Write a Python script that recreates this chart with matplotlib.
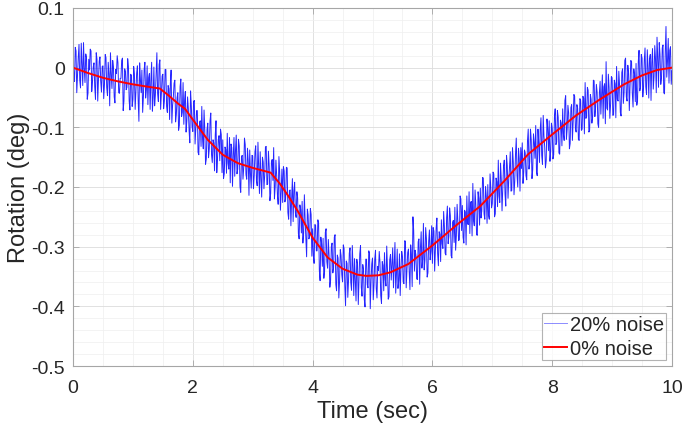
import numpy as np
import matplotlib
matplotlib.use("Agg")
import matplotlib.pyplot as plt
from matplotlib.ticker import MultipleLocator

# noise-free response (0% noise)
clean_t = [0, 0.25, 0.5, 0.75, 1.0, 1.25, 1.45, 1.6, 1.75, 1.87, 2.0, 2.25, 2.5,
           2.75, 3.0, 3.15, 3.3, 3.45, 3.6, 3.75, 4.0, 4.25, 4.5, 4.75, 4.9, 5.1,
           5.3, 5.6, 6.0, 6.4, 6.8, 7.2, 7.6, 8.0, 8.4, 8.8, 9.2, 9.5, 9.75, 10.0]
clean_y = [0, -0.009, -0.017, -0.023, -0.028, -0.032, -0.035, -0.047, -0.060,
           -0.069, -0.087, -0.121, -0.146, -0.160, -0.168, -0.172, -0.176, -0.194,
           -0.216, -0.240, -0.285, -0.318, -0.337, -0.347, -0.349, -0.348, -0.343,
           -0.329, -0.298, -0.264, -0.232, -0.190, -0.145, -0.112, -0.080, -0.053,
           -0.028, -0.013, -0.004, 0.0]

# 20% noise response in millidegrees, samples at t = 0, 0.025, ..., 10
noisy_mdeg = [
    15, -23, 28, -11, 39, -34, 5, 42, -25, 17, -43, -4, 28, -23, 8, -53, 14, -19, 18, -41,
    3, -28, 17, -47, -11, 25, -35, 1, -59, -10, 8, -43, -18, 16, -56, -7, -33, 2, -71, -13,
    -53, -10, -39, 3, -90, -20, -4, -49, 9, -37, -62, -10, -21, -73, 1, -46, 25, -57, 13, -44,
    -11, -56, -3, -75, -35, -27, -93, -49, -21, -78, -42, -97, -19, -75, -95, -40, -89, -69, -126, -64,
    -107, -55, -102, -72, -146, -89, -65, -136, -104, -153, -93, -136, -76, -159, -126, -112, -176, -121, -156, -112,
    -121, -178, -137, -110, -170, -193, -134, -147, -182, -113, -170, -131, -209, -147, -168, -129, -187, -156, -138, -202,
    -148, -181, -131, -198, -166, -141, -217, -158, -181, -132, -195, -165, -211, -154, -134, -200, -180, -229, -174, -208,
    -226, -173, -219, -168, -254, -205, -219, -258, -192, -251, -218, -287, -237, -224, -278, -255, -317, -247, -284, -246,
    -270, -328, -264, -307, -260, -357, -295, -286, -341, -270, -336, -315, -357, -294, -336, -280, -374, -319, -358, -315,
    -359, -303, -399, -328, -356, -302, -373, -336, -320, -391, -329, -355, -298, -383, -338, -401, -321, -369, -311, -359,
    -319, -364, -306, -386, -340, -327, -395, -331, -310, -366, -338, -384, -313, -328, -369, -293, -346, -370, -312, -338,
    -316, -362, -291, -340, -304, -372, -313, -250, -341, -314, -355, -287, -303, -336, -261, -323, -286, -344, -272, -308,
    -328, -274, -306, -252, -332, -279, -255, -303, -266, -314, -232, -283, -248, -319, -256, -234, -282, -257, -288, -220,
    -231, -294, -242, -215, -263, -278, -224, -194, -265, -230, -281, -219, -202, -239, -185, -254, -216, -196, -254, -201,
    -228, -178, -245, -191, -155, -226, -187, -205, -155, -232, -164, -187, -141, -206, -158, -190, -118, -200, -152, -134,
    -126, -175, -143, -188, -103, -158, -121, -171, -125, -97, -181, -126, -104, -147, -80, -133, -156, -101, -89, -140,
    -101, -146, -69, -125, -83, -145, -93, -69, -122, -47, -103, -76, -127, -62, -90, -48, -108, -68, -122, -55,
    -103, -51, -25, -83, -38, -105, -53, -83, -22, -66, -41, -100, -23, -47, -85, -27, 10, -71, -33, -61,
    -17, -79, -27, 2, -56, -30, -81, -2, -42, 16, -56, -9, -31, 10, -66, -12, 7, -55, 29, -33,
    16, -33, 33, -45, 1, 14, -55, 32, -15, 14, 51, -33, 22, -17, 38, -44, 69, 11, -26, 35, -5,
]
# samples halfway between the ones above (t = 0.0125, 0.0375, ..., 9.9875)
noisy_mid_mdeg = [
    -10, 34, -42, 17, -21, 41, -30, -1, 23, -53, 14, 31, -40, 1, -32, 25, -56, 11, -23, 2,
    -52, 22, -33, 9, -64, -10, 12, -49, -3, 20, -42, -18, 12, -72, -2, -37, 15, -56, -11, -65,
    2, -70, -9, -54, 8, -42, -75, -3, -51, 3, -17, -70, 9, -51, -64, -9, -44, 5, -70, -14,
    -69, -3, -65, -30, -87, -4, -63, -26, -91, -50, -105, -32, -82, -25, -55, -108, -49, -105, -39, -99,
    -57, -128, -72, -142, -91, -132, -119, -71, -162, -103, -151, -89, -146, -121, -173, -89, -151, -114, -103, -176,
    -186, -133, -177, -160, -117, -128, -199, -117, -139, -178, -120, -199, -149, -187, -118, -179, -135, -214, -178, -147,
    -203, -141, -189, -125, -211, -186, -150, -203, -133, -196, -140, -223, -158, -189, -220, -155, -213, -149, -239, -170,
    -166, -225, -167, -243, -206, -265, -186, -206, -244, -208, -278, -230, -277, -294, -213, -285, -237, -287, -236, -316,
    -315, -263, -307, -255, -340, -284, -333, -353, -276, -325, -288, -368, -300, -344, -284, -363, -314, -386, -305, -347,
    -297, -366, -324, -385, -311, -360, -298, -382, -357, -321, -397, -312, -368, -330, -388, -321, -364, -307, -404, -329,
    -389, -321, -370, -333, -308, -382, -325, -374, -355, -299, -388, -322, -356, -302, -329, -378, -304, -357, -382, -308,
    -359, -290, -369, -310, -341, -297, -367, -273, -306, -354, -292, -363, -275, -321, -339, -268, -351, -292, -322, -265,
    -268, -341, -269, -312, -275, -325, -295, -241, -311, -251, -295, -235, -315, -259, -293, -306, -229, -290, -215, -273,
    -284, -239, -297, -262, -208, -226, -282, -257, -205, -280, -208, -264, -252, -184, -245, -199, -261, -248, -178, -235,
    -175, -250, -185, -233, -215, -160, -240, -165, -212, -147, -219, -167, -207, -134, -213, -145, -180, -135, -207, -169,
    -194, -138, -181, -123, -170, -103, -186, -111, -152, -175, -103, -159, -84, -162, -115, -168, -86, -139, -157, -93,
    -153, -83, -129, -72, -143, -88, -131, -111, -55, -120, -63, -136, -67, -122, -45, -103, -62, -120, -52, -105,
    -48, -111, -85, -33, -108, -45, -93, -21, -82, -28, -94, -43, -78, -12, -32, -94, -68, -11, -85, -15,
    -80, -21, -84, -53, -6, -75, -8, -60, 12, -49, 4, -72, 12, -43, -2, -57, -63, 10, -39, 22,
    -49, 12, -32, 30, -51, 22, 8, -36, 37, -42, 16, 42, -28, 33, -42, 26, -16, 49, 29, -28,
]

noisy_y = np.empty(len(noisy_mdeg) + len(noisy_mid_mdeg))
noisy_y[0::2] = noisy_mdeg
noisy_y[1::2] = noisy_mid_mdeg
noisy_y = noisy_y / 1000.0
noisy_t = np.linspace(0, 10, len(noisy_y))

plt.rcParams['font.family'] = ['Liberation Sans', 'DejaVu Sans']
text_col = '#262626'
axis_col = '#a6a6a6'

fig = plt.figure(figsize=(6.85, 4.27), dpi=100)
ax = fig.add_axes([0.1066, 0.1405, 0.8744, 0.8385])

ax.plot(noisy_t, noisy_y, color='blue', lw=0.7, alpha=0.85, label='20% noise')
ax.plot(clean_t, clean_y, color='red', lw=1.4, label='0% noise')

ax.set_xlim(0, 10)
ax.set_ylim(-0.5, 0.1)
ax.set_xticks([0, 2, 4, 6, 8, 10])
ax.set_yticks([-0.5, -0.4, -0.3, -0.2, -0.1, 0, 0.1])
ax.set_yticklabels(['-0.5', '-0.4', '-0.3', '-0.2', '-0.1', '0', '0.1'])
ax.xaxis.set_minor_locator(MultipleLocator(0.5))
ax.yaxis.set_minor_locator(MultipleLocator(0.02))

ax.grid(True, which='major', color='#dcdcdc', lw=0.6)
ax.grid(True, which='minor', color='#efefef', lw=0.5)
ax.set_axisbelow(True)

ax.tick_params(which='major', direction='in', length=4, width=0.6, color=axis_col,
               labelsize=14, labelcolor=text_col, top=True, right=True)
ax.tick_params(axis='x', which='major', pad=9)
ax.tick_params(axis='y', which='major', pad=6)
ax.tick_params(which='minor', length=0, top=True, right=True)
for s in ax.spines.values():
    s.set_color(axis_col)
    s.set_linewidth(0.8)

ax.set_xlabel('Time (sec)', fontsize=17, color=text_col, labelpad=3)
ax.set_ylabel('Rotation (deg)', fontsize=17, color=text_col, labelpad=1)

leg = ax.legend(loc='lower right', fontsize=14.5, frameon=True, fancybox=False,
                borderpad=0.1, handlelength=1.15, handletextpad=0.15, labelspacing=0.25,
                borderaxespad=0.3)
leg.get_frame().set_edgecolor('#a0a0a0')
leg.get_frame().set_linewidth(0.8)
leg.get_lines()[0].set_alpha(0.45)
for t in leg.get_texts():
    t.set_color(text_col)

fig.savefig('out.png', dpi=100)
